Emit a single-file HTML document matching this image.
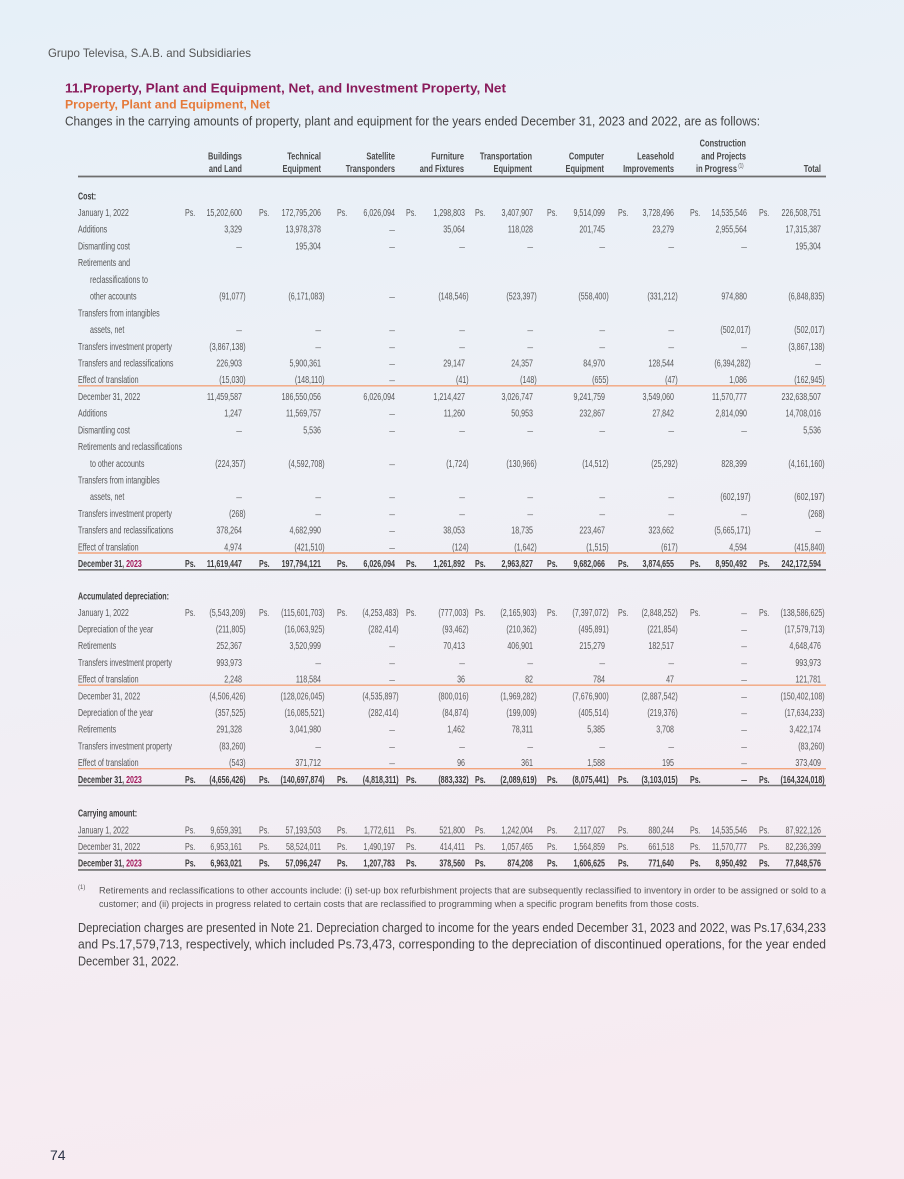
<!DOCTYPE html>
<html><head><meta charset="utf-8"><style>
html,body{margin:0;padding:0;background:#f0eff5;}
svg{display:block;}
svg text{font-family:"Liberation Sans",sans-serif;}
.n{text-anchor:end;}
.b{font-weight:bold;fill:#3d3d3d;}
.hb{font-weight:bold;fill:#4a4a4a;font-size:10.5px;}
.d{font-size:8px;}
.m{fill:#a3195b;}
</style></head><body>
<svg width="904" height="1179" viewBox="0 0 904 1179" xmlns="http://www.w3.org/2000/svg">
<defs><linearGradient id="bg" x1="0" y1="0" x2="0.15" y2="1">
<stop offset="0" stop-color="#e6f0f8"/><stop offset="0.45" stop-color="#eef0f6"/><stop offset="1" stop-color="#f7ebf1"/>
</linearGradient></defs>
<rect x="0" y="0" width="904" height="1179" fill="url(#bg)"/>

<text x="48" y="57" font-size="12" fill="#555" textLength="203" lengthAdjust="spacingAndGlyphs">Grupo Televisa, S.A.B. and Subsidiaries</text>
<text x="65" y="92.5" font-size="13" font-weight="bold" fill="#8a1b5b" textLength="441" lengthAdjust="spacingAndGlyphs">11.Property, Plant and Equipment, Net, and Investment Property, Net</text>
<text x="65" y="108.5" font-size="12" font-weight="bold" fill="#e57a3a" textLength="205" lengthAdjust="spacingAndGlyphs">Property, Plant and Equipment, Net</text>
<text x="65" y="125.5" font-size="12.5" fill="#444" textLength="695" lengthAdjust="spacingAndGlyphs">Changes in the carrying amounts of property, plant and equipment for the years ended December 31, 2023 and 2022, are as follows:</text>

<g transform="scale(0.71 1)" font-size="10" fill="#555">
<!-- header -->
<text class="n hb" y="146.5"><tspan x="1050.7">Construction</tspan></text>
<text class="n hb" y="159.5"><tspan x="340.8">Buildings</tspan><tspan x="452.1">Technical</tspan><tspan x="556.3">Satellite</tspan><tspan x="653.5">Furniture</tspan><tspan x="749.3">Transportation</tspan><tspan x="850.7">Computer</tspan><tspan x="949.3">Leasehold</tspan><tspan x="1050.7">and Projects</tspan></text>
<text class="n hb" y="171.8"><tspan x="340.8">and Land</tspan><tspan x="452.1">Equipment</tspan><tspan x="556.3">Transponders</tspan><tspan x="653.5">and Fixtures</tspan><tspan x="749.3">Equipment</tspan><tspan x="850.7">Equipment</tspan><tspan x="949.3">Improvements</tspan><tspan x="1038">in Progress</tspan><tspan x="1156.3">Total</tspan></text>
<text x="1040" y="167.5" font-size="6" fill="#4a4a4a">(1)</text>

<!-- COST -->
<text class="b" x="109.9" y="199.3">Cost:</text>

<text x="109.9" y="216">January 1, 2022</text>
<text y="216"><tspan x="260.6">Ps.</tspan><tspan x="364.8">Ps.</tspan><tspan x="474.6">Ps.</tspan><tspan x="571.8">Ps.</tspan><tspan x="669">Ps.</tspan><tspan x="770.4">Ps.</tspan><tspan x="870.4">Ps.</tspan><tspan x="971.8">Ps.</tspan><tspan x="1069">Ps.</tspan></text>
<text class="n" y="216"><tspan x="340.8">15,202,600</tspan><tspan x="452.1">172,795,206</tspan><tspan x="556.3">6,026,094</tspan><tspan x="654.9">1,298,803</tspan><tspan x="750.7">3,407,907</tspan><tspan x="852.1">9,514,099</tspan><tspan x="949.3">3,728,496</tspan><tspan x="1052.1">14,535,546</tspan><tspan x="1156.3">226,508,751</tspan></text>

<text x="109.9" y="232.7">Additions</text>
<text class="n" y="232.7"><tspan x="340.8">3,329</tspan><tspan x="452.1">13,978,378</tspan><tspan class="d" x="556.3">—</tspan><tspan x="654.9">35,064</tspan><tspan x="750.7">118,028</tspan><tspan x="852.1">201,745</tspan><tspan x="949.3">23,279</tspan><tspan x="1052.1">2,955,564</tspan><tspan x="1156.3">17,315,387</tspan></text>

<text x="109.9" y="249.4">Dismantling cost</text>
<text class="n" y="249.4"><tspan class="d" x="340.8">—</tspan><tspan x="452.1">195,304</tspan><tspan class="d" x="556.3">—</tspan><tspan class="d" x="654.9">—</tspan><tspan class="d" x="750.7">—</tspan><tspan class="d" x="852.1">—</tspan><tspan class="d" x="949.3">—</tspan><tspan class="d" x="1052.1">—</tspan><tspan x="1156.3">195,304</tspan></text>

<text x="109.9" y="266.2">Retirements and</text>
<text x="126.8" y="282.9">reclassifications to</text>
<text x="126.8" y="299.6">other accounts</text>
<text class="n" y="299.6"><tspan x="346">(91,077)</tspan><tspan x="457.3">(6,171,083)</tspan><tspan class="d" x="556.3">—</tspan><tspan x="660.1">(148,546)</tspan><tspan x="755.9">(523,397)</tspan><tspan x="857.3">(558,400)</tspan><tspan x="954.5">(331,212)</tspan><tspan x="1052.1">974,880</tspan><tspan x="1161.5">(6,848,835)</tspan></text>

<text x="109.9" y="316.3">Transfers from intangibles</text>
<text x="126.8" y="333">assets, net</text>
<text class="n" y="333"><tspan class="d" x="340.8">—</tspan><tspan class="d" x="452.1">—</tspan><tspan class="d" x="556.3">—</tspan><tspan class="d" x="654.9">—</tspan><tspan class="d" x="750.7">—</tspan><tspan class="d" x="852.1">—</tspan><tspan class="d" x="949.3">—</tspan><tspan x="1057.3">(502,017)</tspan><tspan x="1161.5">(502,017)</tspan></text>

<text x="109.9" y="349.8">Transfers investment property</text>
<text class="n" y="349.8"><tspan x="346">(3,867,138)</tspan><tspan class="d" x="452.1">—</tspan><tspan class="d" x="556.3">—</tspan><tspan class="d" x="654.9">—</tspan><tspan class="d" x="750.7">—</tspan><tspan class="d" x="852.1">—</tspan><tspan class="d" x="949.3">—</tspan><tspan class="d" x="1052.1">—</tspan><tspan x="1161.5">(3,867,138)</tspan></text>

<text x="109.9" y="366.5">Transfers and reclassifications</text>
<text class="n" y="366.5"><tspan x="340.8">226,903</tspan><tspan x="452.1">5,900,361</tspan><tspan class="d" x="556.3">—</tspan><tspan x="654.9">29,147</tspan><tspan x="750.7">24,357</tspan><tspan x="852.1">84,970</tspan><tspan x="949.3">128,544</tspan><tspan x="1057.3">(6,394,282)</tspan><tspan class="d" x="1156.3">—</tspan></text>

<text x="109.9" y="383.2">Effect of translation</text>
<text class="n" y="383.2"><tspan x="346">(15,030)</tspan><tspan x="457.3">(148,110)</tspan><tspan class="d" x="556.3">—</tspan><tspan x="660.1">(41)</tspan><tspan x="755.9">(148)</tspan><tspan x="857.3">(655)</tspan><tspan x="954.5">(47)</tspan><tspan x="1052.1">1,086</tspan><tspan x="1161.5">(162,945)</tspan></text>

<text x="109.9" y="399.9">December 31, 2022</text>
<text class="n" y="399.9"><tspan x="340.8">11,459,587</tspan><tspan x="452.1">186,550,056</tspan><tspan x="556.3">6,026,094</tspan><tspan x="654.9">1,214,427</tspan><tspan x="750.7">3,026,747</tspan><tspan x="852.1">9,241,759</tspan><tspan x="949.3">3,549,060</tspan><tspan x="1052.1">11,570,777</tspan><tspan x="1156.3">232,638,507</tspan></text>

<text x="109.9" y="416.6">Additions</text>
<text class="n" y="416.6"><tspan x="340.8">1,247</tspan><tspan x="452.1">11,569,757</tspan><tspan class="d" x="556.3">—</tspan><tspan x="654.9">11,260</tspan><tspan x="750.7">50,953</tspan><tspan x="852.1">232,867</tspan><tspan x="949.3">27,842</tspan><tspan x="1052.1">2,814,090</tspan><tspan x="1156.3">14,708,016</tspan></text>

<text x="109.9" y="433.4">Dismantling cost</text>
<text class="n" y="433.4"><tspan class="d" x="340.8">—</tspan><tspan x="452.1">5,536</tspan><tspan class="d" x="556.3">—</tspan><tspan class="d" x="654.9">—</tspan><tspan class="d" x="750.7">—</tspan><tspan class="d" x="852.1">—</tspan><tspan class="d" x="949.3">—</tspan><tspan class="d" x="1052.1">—</tspan><tspan x="1156.3">5,536</tspan></text>

<text x="109.9" y="450.1">Retirements and reclassifications</text>
<text x="126.8" y="466.8">to other accounts</text>
<text class="n" y="466.8"><tspan x="346">(224,357)</tspan><tspan x="457.3">(4,592,708)</tspan><tspan class="d" x="556.3">—</tspan><tspan x="660.1">(1,724)</tspan><tspan x="755.9">(130,966)</tspan><tspan x="857.3">(14,512)</tspan><tspan x="954.5">(25,292)</tspan><tspan x="1052.1">828,399</tspan><tspan x="1161.5">(4,161,160)</tspan></text>

<text x="109.9" y="483.5">Transfers from intangibles</text>
<text x="126.8" y="500.2">assets, net</text>
<text class="n" y="500.2"><tspan class="d" x="340.8">—</tspan><tspan class="d" x="452.1">—</tspan><tspan class="d" x="556.3">—</tspan><tspan class="d" x="654.9">—</tspan><tspan class="d" x="750.7">—</tspan><tspan class="d" x="852.1">—</tspan><tspan class="d" x="949.3">—</tspan><tspan x="1057.3">(602,197)</tspan><tspan x="1161.5">(602,197)</tspan></text>

<text x="109.9" y="517">Transfers investment property</text>
<text class="n" y="517"><tspan x="346">(268)</tspan><tspan class="d" x="452.1">—</tspan><tspan class="d" x="556.3">—</tspan><tspan class="d" x="654.9">—</tspan><tspan class="d" x="750.7">—</tspan><tspan class="d" x="852.1">—</tspan><tspan class="d" x="949.3">—</tspan><tspan class="d" x="1052.1">—</tspan><tspan x="1161.5">(268)</tspan></text>

<text x="109.9" y="533.7">Transfers and reclassifications</text>
<text class="n" y="533.7"><tspan x="340.8">378,264</tspan><tspan x="452.1">4,682,990</tspan><tspan class="d" x="556.3">—</tspan><tspan x="654.9">38,053</tspan><tspan x="750.7">18,735</tspan><tspan x="852.1">223,467</tspan><tspan x="949.3">323,662</tspan><tspan x="1057.3">(5,665,171)</tspan><tspan class="d" x="1156.3">—</tspan></text>

<text x="109.9" y="550.4">Effect of translation</text>
<text class="n" y="550.4"><tspan x="340.8">4,974</tspan><tspan x="457.3">(421,510)</tspan><tspan class="d" x="556.3">—</tspan><tspan x="660.1">(124)</tspan><tspan x="755.9">(1,642)</tspan><tspan x="857.3">(1,515)</tspan><tspan x="954.5">(617)</tspan><tspan x="1052.1">4,594</tspan><tspan x="1161.5">(415,840)</tspan></text>

<text class="b" x="109.9" y="567.1">December 31, <tspan class="m">2023</tspan></text>
<text class="b" y="567.1"><tspan x="260.6">Ps.</tspan><tspan x="364.8">Ps.</tspan><tspan x="474.6">Ps.</tspan><tspan x="571.8">Ps.</tspan><tspan x="669">Ps.</tspan><tspan x="770.4">Ps.</tspan><tspan x="870.4">Ps.</tspan><tspan x="971.8">Ps.</tspan><tspan x="1069">Ps.</tspan></text>
<text class="n b" y="567.1"><tspan x="340.8">11,619,447</tspan><tspan x="452.1">197,794,121</tspan><tspan x="556.3">6,026,094</tspan><tspan x="654.9">1,261,892</tspan><tspan x="750.7">2,963,827</tspan><tspan x="852.1">9,682,066</tspan><tspan x="949.3">3,874,655</tspan><tspan x="1052.1">8,950,492</tspan><tspan x="1156.3">242,172,594</tspan></text>

<!-- ACCUMULATED DEPRECIATION -->
<text class="b" x="109.9" y="599.5">Accumulated depreciation:</text>

<text x="109.9" y="615.8">January 1, 2022</text>
<text y="615.8"><tspan x="260.6">Ps.</tspan><tspan x="364.8">Ps.</tspan><tspan x="474.6">Ps.</tspan><tspan x="571.8">Ps.</tspan><tspan x="669">Ps.</tspan><tspan x="770.4">Ps.</tspan><tspan x="870.4">Ps.</tspan><tspan x="971.8">Ps.</tspan><tspan x="1069">Ps.</tspan></text>
<text class="n" y="615.8"><tspan x="346">(5,543,209)</tspan><tspan x="457.3">(115,601,703)</tspan><tspan x="561.5">(4,253,483)</tspan><tspan x="660.1">(777,003)</tspan><tspan x="755.9">(2,165,903)</tspan><tspan x="857.3">(7,397,072)</tspan><tspan x="954.5">(2,848,252)</tspan><tspan class="d" x="1052.1">—</tspan><tspan x="1161.5">(138,586,625)</tspan></text>

<text x="109.9" y="632.5">Depreciation of the year</text>
<text class="n" y="632.5"><tspan x="346">(211,805)</tspan><tspan x="457.3">(16,063,925)</tspan><tspan x="561.5">(282,414)</tspan><tspan x="660.1">(93,462)</tspan><tspan x="755.9">(210,362)</tspan><tspan x="857.3">(495,891)</tspan><tspan x="954.5">(221,854)</tspan><tspan class="d" x="1052.1">—</tspan><tspan x="1161.5">(17,579,713)</tspan></text>

<text x="109.9" y="649.2">Retirements</text>
<text class="n" y="649.2"><tspan x="340.8">252,367</tspan><tspan x="452.1">3,520,999</tspan><tspan class="d" x="556.3">—</tspan><tspan x="654.9">70,413</tspan><tspan x="750.7">406,901</tspan><tspan x="852.1">215,279</tspan><tspan x="949.3">182,517</tspan><tspan class="d" x="1052.1">—</tspan><tspan x="1156.3">4,648,476</tspan></text>

<text x="109.9" y="665.9">Transfers investment property</text>
<text class="n" y="665.9"><tspan x="340.8">993,973</tspan><tspan class="d" x="452.1">—</tspan><tspan class="d" x="556.3">—</tspan><tspan class="d" x="654.9">—</tspan><tspan class="d" x="750.7">—</tspan><tspan class="d" x="852.1">—</tspan><tspan class="d" x="949.3">—</tspan><tspan class="d" x="1052.1">—</tspan><tspan x="1156.3">993,973</tspan></text>

<text x="109.9" y="682.6">Effect of translation</text>
<text class="n" y="682.6"><tspan x="340.8">2,248</tspan><tspan x="452.1">118,584</tspan><tspan class="d" x="556.3">—</tspan><tspan x="654.9">36</tspan><tspan x="750.7">82</tspan><tspan x="852.1">784</tspan><tspan x="949.3">47</tspan><tspan class="d" x="1052.1">—</tspan><tspan x="1156.3">121,781</tspan></text>

<text x="109.9" y="699.3">December 31, 2022</text>
<text class="n" y="699.3"><tspan x="346">(4,506,426)</tspan><tspan x="457.3">(128,026,045)</tspan><tspan x="561.5">(4,535,897)</tspan><tspan x="660.1">(800,016)</tspan><tspan x="755.9">(1,969,282)</tspan><tspan x="857.3">(7,676,900)</tspan><tspan x="954.5">(2,887,542)</tspan><tspan class="d" x="1052.1">—</tspan><tspan x="1161.5">(150,402,108)</tspan></text>

<text x="109.9" y="716">Depreciation of the year</text>
<text class="n" y="716"><tspan x="346">(357,525)</tspan><tspan x="457.3">(16,085,521)</tspan><tspan x="561.5">(282,414)</tspan><tspan x="660.1">(84,874)</tspan><tspan x="755.9">(199,009)</tspan><tspan x="857.3">(405,514)</tspan><tspan x="954.5">(219,376)</tspan><tspan class="d" x="1052.1">—</tspan><tspan x="1161.5">(17,634,233)</tspan></text>

<text x="109.9" y="732.7">Retirements</text>
<text class="n" y="732.7"><tspan x="340.8">291,328</tspan><tspan x="452.1">3,041,980</tspan><tspan class="d" x="556.3">—</tspan><tspan x="654.9">1,462</tspan><tspan x="750.7">78,311</tspan><tspan x="852.1">5,385</tspan><tspan x="949.3">3,708</tspan><tspan class="d" x="1052.1">—</tspan><tspan x="1156.3">3,422,174</tspan></text>

<text x="109.9" y="749.4">Transfers investment property</text>
<text class="n" y="749.4"><tspan x="346">(83,260)</tspan><tspan class="d" x="452.1">—</tspan><tspan class="d" x="556.3">—</tspan><tspan class="d" x="654.9">—</tspan><tspan class="d" x="750.7">—</tspan><tspan class="d" x="852.1">—</tspan><tspan class="d" x="949.3">—</tspan><tspan class="d" x="1052.1">—</tspan><tspan x="1161.5">(83,260)</tspan></text>

<text x="109.9" y="766.1">Effect of translation</text>
<text class="n" y="766.1"><tspan x="346">(543)</tspan><tspan x="452.1">371,712</tspan><tspan class="d" x="556.3">—</tspan><tspan x="654.9">96</tspan><tspan x="750.7">361</tspan><tspan x="852.1">1,588</tspan><tspan x="949.3">195</tspan><tspan class="d" x="1052.1">—</tspan><tspan x="1156.3">373,409</tspan></text>

<text class="b" x="109.9" y="782.8">December 31, <tspan class="m">2023</tspan></text>
<text class="b" y="782.8"><tspan x="260.6">Ps.</tspan><tspan x="364.8">Ps.</tspan><tspan x="474.6">Ps.</tspan><tspan x="571.8">Ps.</tspan><tspan x="669">Ps.</tspan><tspan x="770.4">Ps.</tspan><tspan x="870.4">Ps.</tspan><tspan x="971.8">Ps.</tspan><tspan x="1069">Ps.</tspan></text>
<text class="n b" y="782.8"><tspan x="346">(4,656,426)</tspan><tspan x="457.3">(140,697,874)</tspan><tspan x="561.5">(4,818,311)</tspan><tspan x="660.1">(883,332)</tspan><tspan x="755.9">(2,089,619)</tspan><tspan x="857.3">(8,075,441)</tspan><tspan x="954.5">(3,103,015)</tspan><tspan class="d" x="1052.1">—</tspan><tspan x="1161.5">(164,324,018)</tspan></text>

<!-- CARRYING AMOUNT -->
<text class="b" x="109.9" y="816.5">Carrying amount:</text>

<text x="109.9" y="833.3">January 1, 2022</text>
<text y="833.3"><tspan x="260.6">Ps.</tspan><tspan x="364.8">Ps.</tspan><tspan x="474.6">Ps.</tspan><tspan x="571.8">Ps.</tspan><tspan x="669">Ps.</tspan><tspan x="770.4">Ps.</tspan><tspan x="870.4">Ps.</tspan><tspan x="971.8">Ps.</tspan><tspan x="1069">Ps.</tspan></text>
<text class="n" y="833.3"><tspan x="340.8">9,659,391</tspan><tspan x="452.1">57,193,503</tspan><tspan x="556.3">1,772,611</tspan><tspan x="654.9">521,800</tspan><tspan x="750.7">1,242,004</tspan><tspan x="852.1">2,117,027</tspan><tspan x="949.3">880,244</tspan><tspan x="1052.1">14,535,546</tspan><tspan x="1156.3">87,922,126</tspan></text>

<text x="109.9" y="850">December 31, 2022</text>
<text y="850"><tspan x="260.6">Ps.</tspan><tspan x="364.8">Ps.</tspan><tspan x="474.6">Ps.</tspan><tspan x="571.8">Ps.</tspan><tspan x="669">Ps.</tspan><tspan x="770.4">Ps.</tspan><tspan x="870.4">Ps.</tspan><tspan x="971.8">Ps.</tspan><tspan x="1069">Ps.</tspan></text>
<text class="n" y="850"><tspan x="340.8">6,953,161</tspan><tspan x="452.1">58,524,011</tspan><tspan x="556.3">1,490,197</tspan><tspan x="654.9">414,411</tspan><tspan x="750.7">1,057,465</tspan><tspan x="852.1">1,564,859</tspan><tspan x="949.3">661,518</tspan><tspan x="1052.1">11,570,777</tspan><tspan x="1156.3">82,236,399</tspan></text>

<text class="b" x="109.9" y="866.7">December 31, <tspan class="m">2023</tspan></text>
<text class="b" y="866.7"><tspan x="260.6">Ps.</tspan><tspan x="364.8">Ps.</tspan><tspan x="474.6">Ps.</tspan><tspan x="571.8">Ps.</tspan><tspan x="669">Ps.</tspan><tspan x="770.4">Ps.</tspan><tspan x="870.4">Ps.</tspan><tspan x="971.8">Ps.</tspan><tspan x="1069">Ps.</tspan></text>
<text class="n b" y="866.7"><tspan x="340.8">6,963,021</tspan><tspan x="452.1">57,096,247</tspan><tspan x="556.3">1,207,783</tspan><tspan x="654.9">378,560</tspan><tspan x="750.7">874,208</tspan><tspan x="852.1">1,606,625</tspan><tspan x="949.3">771,640</tspan><tspan x="1052.1">8,950,492</tspan><tspan x="1156.3">77,848,576</tspan></text>
</g>

<!-- rules -->
<line x1="78" x2="826" y1="176.5" y2="176.5" stroke="#6e6e6e" stroke-width="1.8"/>
<line x1="78" x2="826" y1="385.8" y2="385.8" stroke="#f2a47c" stroke-width="1.4"/>
<line x1="78" x2="826" y1="553" y2="553" stroke="#f2a47c" stroke-width="1.4"/>
<line x1="78" x2="826" y1="569.8" y2="569.8" stroke="#737373" stroke-width="1.6"/>
<line x1="78" x2="826" y1="685.2" y2="685.2" stroke="#f2a47c" stroke-width="1.4"/>
<line x1="78" x2="826" y1="768.7" y2="768.7" stroke="#f2a47c" stroke-width="1.4"/>
<line x1="78" x2="826" y1="785.5" y2="785.5" stroke="#737373" stroke-width="1.6"/>
<line x1="78" x2="826" y1="836.4" y2="836.4" stroke="#858585" stroke-width="1.2"/>
<line x1="78" x2="826" y1="853.1" y2="853.1" stroke="#858585" stroke-width="1.2"/>
<line x1="78" x2="826" y1="869.9" y2="869.9" stroke="#6e6e6e" stroke-width="1.6"/>

<!-- footnote -->
<text x="78" y="889" font-size="6" fill="#555">(1)</text>
<text x="99" y="893.5" font-size="9" fill="#555" textLength="727" lengthAdjust="spacingAndGlyphs">Retirements and reclassifications to other accounts include: (i) set-up box refurbishment projects that are subsequently reclassified to inventory in order to be assigned or sold to a</text>
<text x="99" y="907" font-size="9" fill="#555" textLength="600" lengthAdjust="spacingAndGlyphs">customer; and (ii) projects in progress related to certain costs that are reclassified to programming when a specific program benefits from those costs.</text>

<!-- paragraph -->
<text x="78" y="931.8" font-size="12.5" fill="#444" textLength="748" lengthAdjust="spacingAndGlyphs">Depreciation charges are presented in Note 21. Depreciation charged to income for the years ended December 31, 2023 and 2022, was Ps.17,634,233</text>
<text x="78" y="948.6" font-size="12.5" fill="#444" textLength="748" lengthAdjust="spacingAndGlyphs">and Ps.17,579,713, respectively, which included Ps.73,473, corresponding to the depreciation of discontinued operations, for the year ended</text>
<text x="78" y="965.4" font-size="12.5" fill="#444" textLength="101" lengthAdjust="spacingAndGlyphs">December 31, 2022.</text>

<text x="50" y="1160" font-size="14" fill="#2c3447">74</text>
</svg>
</body></html>
